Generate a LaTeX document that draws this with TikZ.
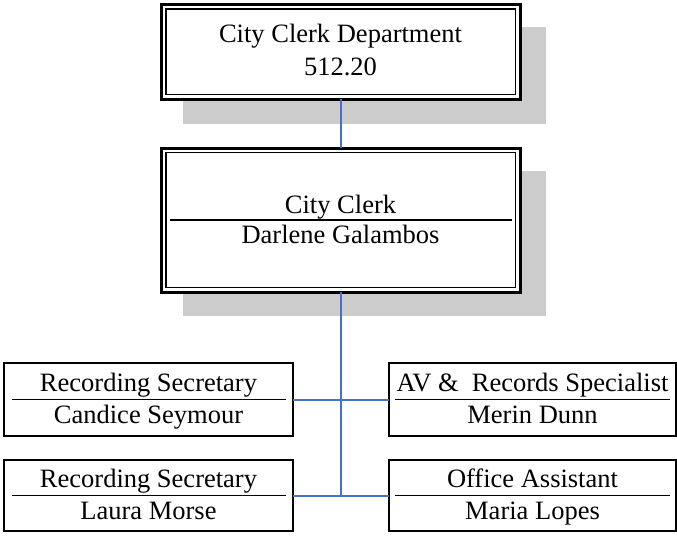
\documentclass[tikz,border=0pt]{standalone}
\usepackage{fontspec}
\setmainfont{Liberation Serif}
\usetikzlibrary{backgrounds}
\definecolor{connblue}{RGB}{68,114,196}
\definecolor{shadowgray}{RGB}{204,204,204}
\begin{document}
\begin{tikzpicture}[x=1pt,y=-1pt,
  bigbox/.style={draw=black,line width=3pt,fill=white,inner sep=0pt,outer sep=0pt,minimum width=359pt},
  innerframe/.style={draw=black,line width=1.5pt},
  smallbox/.style={draw=black,line width=2pt,fill=white,inner sep=0pt,outer sep=0pt},
  txt/.style={anchor=base,inner sep=0pt,font=\fontsize{26.5}{30}\selectfont},
  conn/.style={draw=connblue,line width=2pt},
  divider/.style={draw=black,line width=1.8pt},
  shadowfill/.style={fill=shadowgray,draw=none}]
\useasboundingbox (0,0) rectangle (677,539);
% main boxes
\node[bigbox,minimum height=94.5pt] (top) at (340.5,51.75) {};
\node[bigbox,minimum height=144pt] (mid) at (340.5,220) {};
% staff boxes
\node[smallbox,minimum width=289pt,minimum height=73pt] (rs1) at (148.5,399.5) {};
\node[smallbox,minimum width=289pt,minimum height=71pt] (rs2) at (148.5,495.5) {};
\node[smallbox,minimum width=287pt,minimum height=73pt] (av) at (532.5,399.5) {};
\node[smallbox,minimum width=287pt,minimum height=71pt] (oa) at (532.5,495.5) {};
% shadows
\begin{scope}[on background layer]
\fill[shadowfill] ([xshift=22pt,yshift=-22.5pt]top.north west) rectangle ([xshift=26pt,yshift=-25pt]top.south east);
\fill[shadowfill] ([xshift=22pt,yshift=-23pt]mid.north west) rectangle ([xshift=26pt,yshift=-24pt]mid.south east);
\end{scope}
% inner frames of double borders
\draw[innerframe] ([xshift=5pt,yshift=-4.5pt]top.north west) rectangle ([xshift=-4.5pt,yshift=4.5pt]top.south east);
\draw[innerframe] ([xshift=5pt,yshift=-4.5pt]mid.north west) rectangle ([xshift=-4.5pt,yshift=4.5pt]mid.south east);
% dividers
\draw[divider] ([xshift=9pt]mid.west) -- ([xshift=-8pt]mid.east);
\draw[divider] ([xshift=8pt]rs1.west) -- ([xshift=-7pt]rs1.east);
\draw[divider] ([xshift=8pt]rs2.west) -- ([xshift=-7pt]rs2.east);
\draw[divider] ([xshift=6pt]av.west) -- ([xshift=-6pt]av.east);
\draw[divider] ([xshift=6pt]oa.west) -- ([xshift=-6pt]oa.east);
% texts
\node[txt] (t1) at (340.5,42) {City Clerk Department};
\node[txt] (t2) at (340.5,75) {512.20};
\node[txt] (m1) at (340.5,213) {City Clerk};
\node[txt] (m2) at (340.5,243) {Darlene Galambos};
\node[txt] (a1) at (148.5,391.5) {Recording Secretary};
\node[txt] (a2) at (148.5,423.5) {Candice Seymour};
\node[txt] (b1) at (532.5,391.5) {AV \&\ \ Records Specialist};
\node[txt] (b2) at (532.5,423.5) {Merin Dunn};
\node[txt] (c1) at (148.5,487.5) {Recording Secretary};
\node[txt] (c2) at (148.5,519.5) {Laura Morse};
\node[txt] (d1) at (532.5,487.5) {Office Assistant};
\node[txt] (d2) at (532.5,519.5) {Maria Lopes};
% connectors
\coordinate (j2) at (mid.south |- rs2.east);
\draw[conn] (top.south) -- (mid.north);
\draw[conn] (mid.south) -- (j2);
\draw[conn] (rs1.east) -- (av.west);
\draw[conn] (rs2.east) -- (oa.west);
\end{tikzpicture}
\end{document}
